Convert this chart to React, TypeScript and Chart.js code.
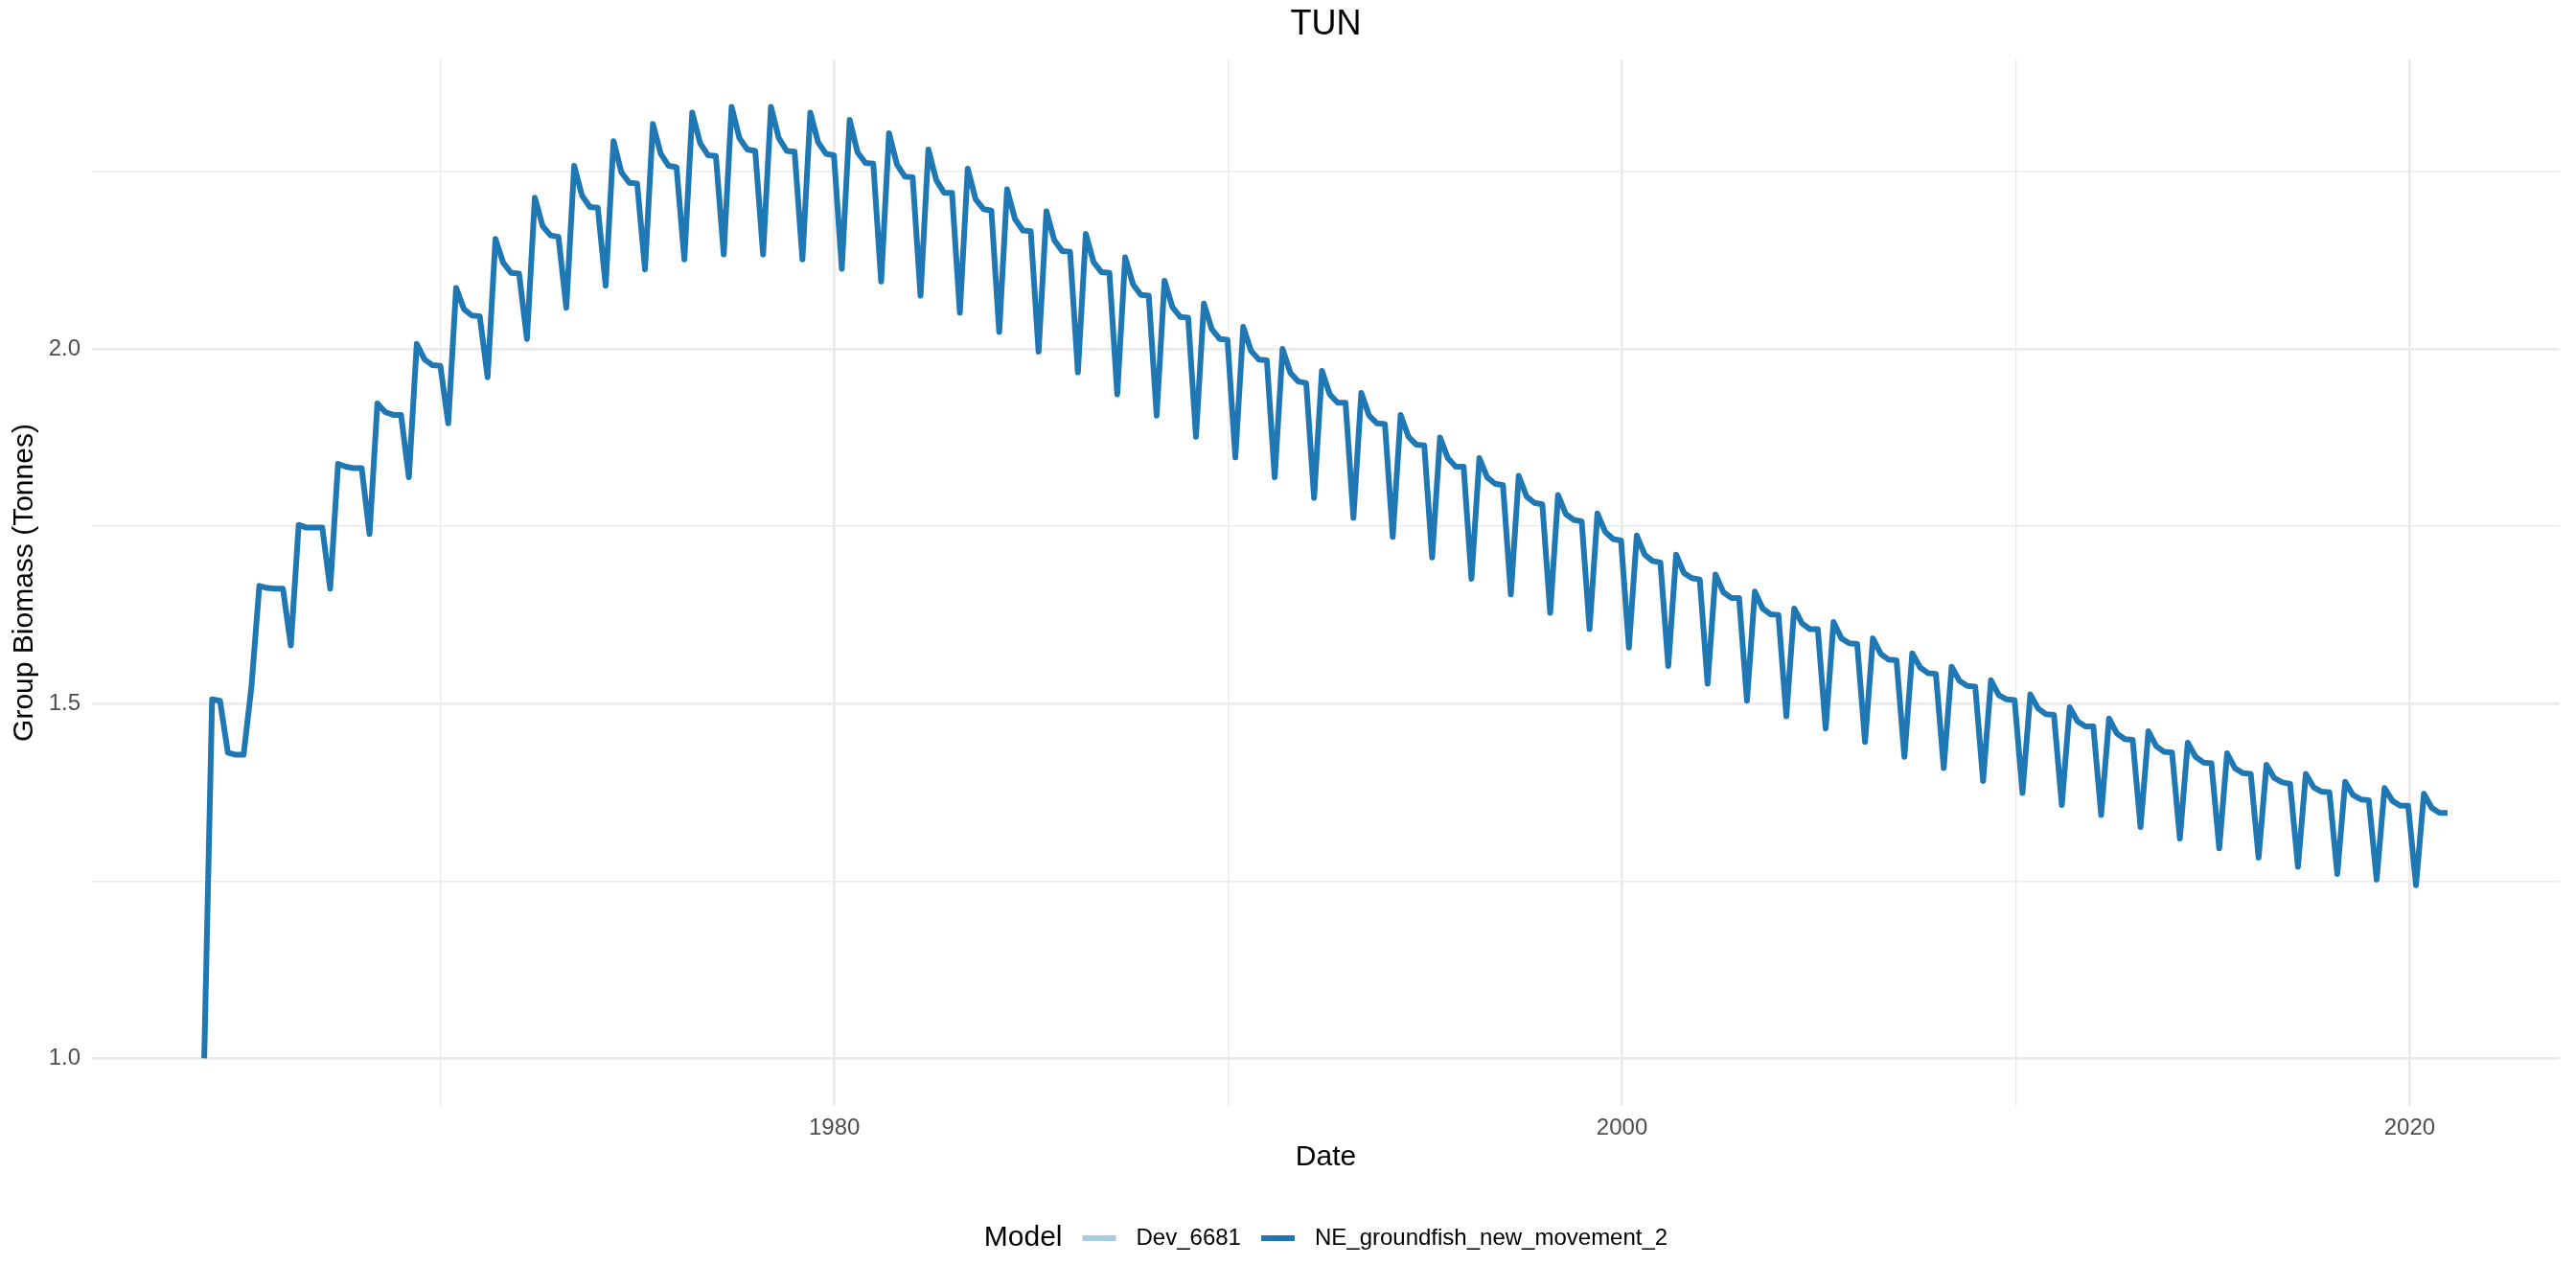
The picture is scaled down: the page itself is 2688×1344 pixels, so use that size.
import React, { useEffect, useRef } from 'react';
import { Chart, registerables } from 'chart.js';

Chart.register(...registerables);

const FONT = '"Liberation Sans", Arial, Helvetica, sans-serif';

const TITLE = 'TUN';
const X_TITLE = 'Date';
const Y_TITLE = 'Group Biomass (Tonnes)';
const LEGEND_TITLE = 'Model';
const SERIES_NAMES = ['Dev_6681', 'NE_groundfish_new_movement_2'];
const SERIES_COLORS = ['#A6CEE3', '#1F78B4'];

// model output: one value every 73 days starting 1964-01-01
const START_YEAR = 1964;
const STEP_DAYS = 73;

const X_TICKS = [1970, 1980, 1990, 2000, 2010, 2020];
const X_LABELED = [1980, 2000, 2020];
const Y_TICKS = [1.0, 1.25, 1.5, 1.75, 2.0, 2.25];
const Y_LABELED = [1.0, 1.5, 2.0];

const X_MIN = 1961.15;
const X_MAX = 2023.81;
const Y_MIN = 0.933;
const Y_MAX = 2.408;

const DEV_VALUES: number[] = [];

// NE_groundfish_new_movement_2 biomass, five time steps per year
const NE_VALUES: number[] = [
  1.000, 1.506, 1.504, 1.431, 1.428, // 1964
  1.428, 1.524, 1.666, 1.663, 1.662, // 1965
  1.662, 1.582, 1.752, 1.748, 1.748, // 1966
  1.748, 1.662, 1.838, 1.834, 1.832, // 1967
  1.832, 1.739, 1.923, 1.911, 1.907, // 1968
  1.907, 1.819, 2.007, 1.985, 1.977, // 1969
  1.976, 1.895, 2.086, 2.056, 2.047, // 1970
  2.046, 1.960, 2.155, 2.121, 2.107, // 1971
  2.106, 2.014, 2.213, 2.173, 2.160, // 1972
  2.158, 2.058, 2.258, 2.216, 2.200, // 1973
  2.199, 2.089, 2.293, 2.249, 2.234, // 1974
  2.233, 2.112, 2.317, 2.275, 2.258, // 1975
  2.256, 2.126, 2.333, 2.290, 2.273, // 1976
  2.272, 2.133, 2.341, 2.297, 2.281, // 1977
  2.279, 2.133, 2.341, 2.297, 2.279, // 1978
  2.278, 2.126, 2.333, 2.291, 2.275, // 1979
  2.273, 2.113, 2.323, 2.277, 2.262, // 1980
  2.261, 2.095, 2.304, 2.260, 2.243, // 1981
  2.242, 2.075, 2.281, 2.238, 2.220, // 1982
  2.220, 2.051, 2.254, 2.211, 2.197, // 1983
  2.195, 2.024, 2.225, 2.183, 2.167, // 1984
  2.166, 1.996, 2.194, 2.153, 2.138, // 1985
  2.137, 1.967, 2.162, 2.122, 2.108, // 1986
  2.107, 1.936, 2.129, 2.091, 2.076, // 1987
  2.075, 1.906, 2.096, 2.059, 2.045, // 1988
  2.044, 1.876, 2.064, 2.028, 2.014, // 1989
  2.013, 1.847, 2.031, 1.997, 1.985, // 1990
  1.984, 1.819, 2.000, 1.966, 1.954, // 1991
  1.952, 1.790, 1.969, 1.936, 1.924, // 1992
  1.924, 1.762, 1.938, 1.906, 1.895, // 1993
  1.894, 1.735, 1.907, 1.876, 1.865, // 1994
  1.864, 1.706, 1.875, 1.846, 1.834, // 1995
  1.834, 1.676, 1.846, 1.819, 1.810, // 1996
  1.808, 1.654, 1.821, 1.792, 1.783, // 1997
  1.781, 1.628, 1.794, 1.767, 1.759, // 1998
  1.757, 1.605, 1.768, 1.742, 1.732, // 1999
  1.730, 1.579, 1.737, 1.710, 1.701, // 2000
  1.699, 1.553, 1.710, 1.684, 1.677, // 2001
  1.675, 1.528, 1.682, 1.657, 1.649, // 2002
  1.649, 1.504, 1.658, 1.634, 1.626, // 2003
  1.625, 1.482, 1.634, 1.613, 1.605, // 2004
  1.605, 1.465, 1.615, 1.592, 1.585, // 2005
  1.584, 1.446, 1.592, 1.570, 1.562, // 2006
  1.561, 1.425, 1.571, 1.551, 1.543, // 2007
  1.542, 1.409, 1.552, 1.532, 1.525, // 2008
  1.524, 1.391, 1.533, 1.512, 1.506, // 2009
  1.505, 1.374, 1.513, 1.493, 1.485, // 2010
  1.484, 1.357, 1.495, 1.475, 1.468, // 2011
  1.468, 1.343, 1.479, 1.458, 1.450, // 2012
  1.449, 1.326, 1.461, 1.440, 1.432, // 2013
  1.431, 1.310, 1.445, 1.425, 1.417, // 2014
  1.416, 1.296, 1.430, 1.409, 1.402, // 2015
  1.401, 1.283, 1.414, 1.395, 1.389, // 2016
  1.387, 1.270, 1.401, 1.382, 1.376, // 2017
  1.375, 1.260, 1.390, 1.371, 1.365, // 2018
  1.364, 1.252, 1.381, 1.363, 1.356, // 2019
  1.356, 1.244, 1.373, 1.353, 1.346, // 2020
  1.346, // 2021
];

const toPoints = (vals: number[]) =>
  vals.map((v, i) => ({ x: START_YEAR + (i * STEP_DAYS) / 365.25, y: v }));

const overlayPlugin = {
  id: 'ggOverlay',
  afterDraw(chart: any) {
    const { ctx, chartArea } = chart;
    const cx = (chartArea.left + chartArea.right) / 2;
    ctx.save();
    ctx.fillStyle = '#000000';
    ctx.textBaseline = 'middle';
    ctx.textAlign = 'center';
    ctx.font = `36px ${FONT}`;
    ctx.fillText(TITLE, cx, 26);

    // legend (ggplot-style, bottom, inline title)
    const ly = 1292;
    const gap = 21;
    const keyW = 35;
    ctx.font = `30px ${FONT}`;
    const wTitle = ctx.measureText(LEGEND_TITLE).width;
    ctx.font = `24px ${FONT}`;
    const ds = chart.data.datasets;
    const widths = ds.map((d: any) => ctx.measureText(d.label).width);
    let total = wTitle;
    widths.forEach((w: number) => { total += 2 * gap + keyW + w; });
    let x = cx - total / 2;
    ctx.textAlign = 'left';
    ctx.font = `30px ${FONT}`;
    ctx.fillText(LEGEND_TITLE, x, ly);
    x += wTitle;
    ctx.font = `24px ${FONT}`;
    ds.forEach((d: any, i: number) => {
      x += gap;
      ctx.strokeStyle = d.borderColor;
      ctx.lineWidth = 6;
      ctx.lineCap = 'butt';
      ctx.beginPath();
      ctx.moveTo(x, ly);
      ctx.lineTo(x + keyW, ly);
      ctx.stroke();
      x += keyW + gap;
      ctx.fillStyle = '#000000';
      ctx.fillText(d.label, x, ly);
      x += widths[i];
    });
    ctx.restore();
  },
};

export default function App() {
  const canvasRef = useRef<HTMLCanvasElement | null>(null);

  useEffect(() => {
    const canvas = canvasRef.current;
    if (!canvas) return;
    const chart = new Chart(canvas, {
      type: 'line',
      data: {
        datasets: [
          {
            label: SERIES_NAMES[0],
            data: toPoints(DEV_VALUES),
            borderColor: SERIES_COLORS[0],
            backgroundColor: SERIES_COLORS[0],
            borderWidth: 6,
            pointRadius: 0,
            tension: 0,
          },
          {
            label: SERIES_NAMES[1],
            data: toPoints(NE_VALUES),
            borderColor: SERIES_COLORS[1],
            backgroundColor: SERIES_COLORS[1],
            borderWidth: 6,
            pointRadius: 0,
            tension: 0,
            borderJoinStyle: 'round',
            borderCapStyle: 'butt',
          },
        ],
      },
      options: {
        responsive: false,
        maintainAspectRatio: false,
        devicePixelRatio: 1,
        animation: false,
        events: [],
        layout: { padding: { top: 62, left: 0, right: 17, bottom: 114 } },
        plugins: {
          legend: { display: false },
          title: { display: false },
          tooltip: { enabled: false },
        },
        scales: {
          x: {
            type: 'linear',
            min: X_MIN,
            max: X_MAX,
            afterBuildTicks: (s: any) => {
              s.ticks = X_TICKS.map((v) => ({ value: v }));
            },
            afterFit: (s: any) => {
              s.height = 76;
            },
            ticks: {
              autoSkip: false,
              maxRotation: 0,
              padding: 9,
              color: '#4D4D4D',
              font: { family: FONT, size: 24 },
              callback: (v: any) => (X_LABELED.includes(Number(v)) ? String(v) : ''),
            },
            grid: {
              color: '#EBEBEB',
              drawTicks: false,
              lineWidth: (c: any) => (c.tick && X_LABELED.includes(c.tick.value) ? 2.8 : 1.4),
            },
            border: { display: false },
            title: {
              display: true,
              text: X_TITLE,
              color: '#000000',
              font: { family: FONT, size: 30 },
              padding: { top: 0, bottom: 4.5 },
            },
          },
          y: {
            type: 'linear',
            min: Y_MIN,
            max: Y_MAX,
            afterBuildTicks: (s: any) => {
              s.ticks = Y_TICKS.map((v) => ({ value: v }));
            },
            afterFit: (s: any) => {
              s.width = 96;
            },
            ticks: {
              autoSkip: false,
              padding: 12,
              color: '#4D4D4D',
              font: { family: FONT, size: 24 },
              callback: (v: any) => (Y_LABELED.includes(Number(v)) ? Number(v).toFixed(1) : ''),
            },
            grid: {
              color: '#EBEBEB',
              drawTicks: false,
              lineWidth: (c: any) => (c.tick && Y_LABELED.includes(c.tick.value) ? 2.8 : 1.4),
            },
            border: { display: false },
            title: {
              display: true,
              text: Y_TITLE,
              color: '#000000',
              font: { family: FONT, size: 30 },
              padding: { top: 7.6, bottom: 0 },
            },
          },
        },
      },
      plugins: [overlayPlugin],
    } as any);
    return () => {
      chart.destroy();
    };
  }, []);

  return (
    <div
      style={{
        position: 'absolute',
        left: 0,
        top: 0,
        width: 2688,
        height: 1344,
        background: '#ffffff',
      }}
    >
      <canvas
        ref={canvasRef}
        width={2688}
        height={1344}
        style={{ display: 'block', width: 2688, height: 1344 }}
      />
    </div>
  );
}
